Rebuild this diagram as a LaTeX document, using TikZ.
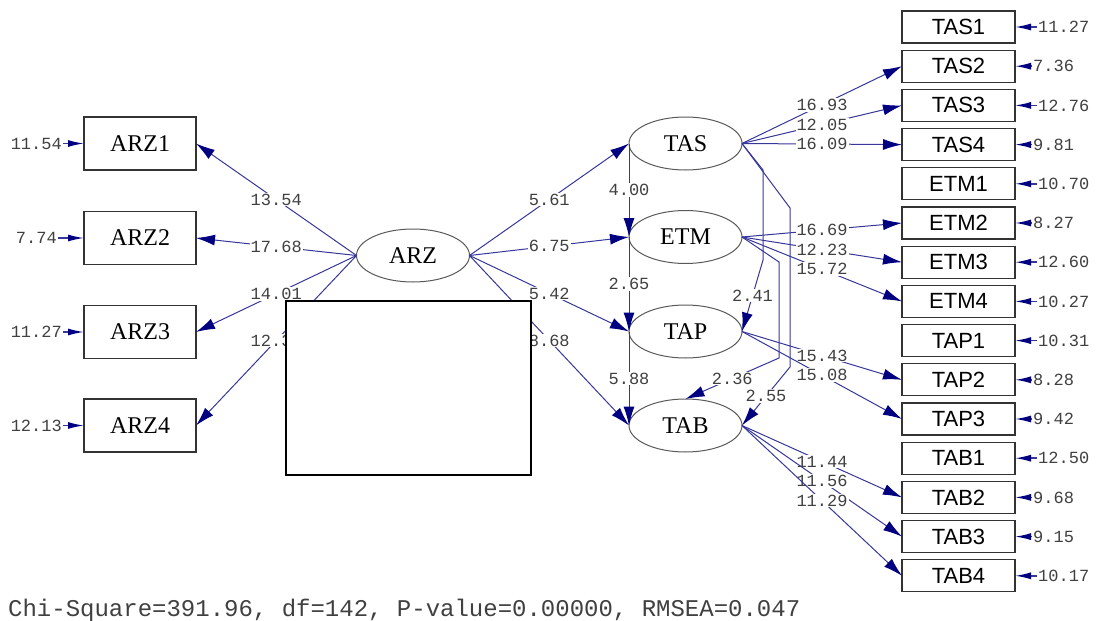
\documentclass[tikz,border=0pt]{standalone}
\usepackage{fontspec}
\setmainfont{Liberation Serif}
\newfontfamily\valfont{Liberation Mono}
\newfontfamily\itemfont{Liberation Sans}
\usetikzlibrary{shapes.geometric,arrows.meta}
\definecolor{linkblue}{RGB}{55,55,155}
\definecolor{tipblue}{RGB}{0,0,128}
\tikzset{
  indicator/.style={rectangle, draw=black!80, line width=1.2pt, minimum width=112pt, minimum height=53pt, inner sep=0pt, outer sep=0pt, font=\fontsize{24}{24}\selectfont},
  itembox/.style={rectangle, draw=black!80, line width=1.2pt, minimum width=113pt, minimum height=32pt, inner sep=0pt, outer sep=0pt, font=\itemfont\fontsize{22}{22}\selectfont},
  latent/.style={ellipse, draw=black!65, line width=1pt, minimum width=113pt, minimum height=53pt, inner sep=0pt, outer sep=0pt, font=\fontsize{24}{24}\selectfont},
  loadarrow/.style={draw=linkblue, line width=1pt, -{Latex[length=19pt,width=11pt,color=tipblue]}},
  resid/.style={draw=linkblue, line width=1.5pt, -{Latex[length=16pt,width=7pt,color=tipblue]}},
  coef/.style={font=\valfont\fontsize{17}{17}\selectfont, text=black!75, fill=white, inner sep=1pt}
}
\begin{document}
\begin{tikzpicture}[x=1pt,y=-1pt]
                    \useasboundingbox (0,0) rectangle (1096,621);
                    % left block
                    \node[indicator] (ARZ1) at (140,143.5) {ARZ1};
                    \node[indicator] (ARZ2) at (140,238) {ARZ2};
                    \node[indicator] (ARZ3) at (140,332) {ARZ3};
                    \node[indicator] (ARZ4) at (140,425.5) {ARZ4};
                    \node[latent] (ARZ) at (413,255.5) {ARZ};
                    \node[coef, anchor=east] (eARZ1) at (63,143.5) {11.54};
                    \node[coef, anchor=east] (eARZ2) at (58,238) {7.74};
                    \node[coef, anchor=east] (eARZ3) at (63,332) {11.27};
                    \node[coef, anchor=east] (eARZ4) at (63,425.5) {12.13};
                    \draw[resid] (eARZ1.east) -- (ARZ1.west);
                    \draw[resid] (eARZ2.east) -- (ARZ2.west);
                    \draw[resid] (eARZ3.east) -- (ARZ3.west);
                    \draw[resid] (eARZ4.east) -- (ARZ4.west);
                    % middle block
                    \node[latent] (TAS) at (685.5,143.5) {TAS};
                    \node[latent] (ETM) at (685.5,237) {ETM};
                    \node[latent] (TAP) at (685.5,331.5) {TAP};
                    \node[latent] (TAB) at (685.5,425.5) {TAB};
                    % right block
                    \node[itembox] (TAS1) at (958.5,27) {TAS1};
                    \node[itembox] (TAS2) at (958.5,66.2) {TAS2};
                    \node[itembox] (TAS3) at (958.5,105.4) {TAS3};
                    \node[itembox] (TAS4) at (958.5,144.6) {TAS4};
                    \node[itembox] (ETM1) at (958.5,183.8) {ETM1};
                    \node[itembox] (ETM2) at (958.5,223) {ETM2};
                    \node[itembox] (ETM3) at (958.5,262.2) {ETM3};
                    \node[itembox] (ETM4) at (958.5,301.4) {ETM4};
                    \node[itembox] (TAP1) at (958.5,340.6) {TAP1};
                    \node[itembox] (TAP2) at (958.5,379.8) {TAP2};
                    \node[itembox] (TAP3) at (958.5,419) {TAP3};
                    \node[itembox] (TAB1) at (958.5,458.2) {TAB1};
                    \node[itembox] (TAB2) at (958.5,497.4) {TAB2};
                    \node[itembox] (TAB3) at (958.5,536.6) {TAB3};
                    \node[itembox] (TAB4) at (958.5,575.8) {TAB4};
                    \node[coef, anchor=west] (eTAS1) at (1037,27) {11.27};
                    \node[coef, anchor=west] (eTAS2) at (1032,66.2) {7.36};
                    \node[coef, anchor=west] (eTAS3) at (1037,105.4) {12.76};
                    \node[coef, anchor=west] (eTAS4) at (1032,144.6) {9.81};
                    \node[coef, anchor=west] (eETM1) at (1037,183.8) {10.70};
                    \node[coef, anchor=west] (eETM2) at (1032,223) {8.27};
                    \node[coef, anchor=west] (eETM3) at (1037,262.2) {12.60};
                    \node[coef, anchor=west] (eETM4) at (1037,301.4) {10.27};
                    \node[coef, anchor=west] (eTAP1) at (1037,340.6) {10.31};
                    \node[coef, anchor=west] (eTAP2) at (1032,379.8) {8.28};
                    \node[coef, anchor=west] (eTAP3) at (1032,419) {9.42};
                    \node[coef, anchor=west] (eTAB1) at (1037,458.2) {12.50};
                    \node[coef, anchor=west] (eTAB2) at (1032,497.4) {9.68};
                    \node[coef, anchor=west] (eTAB3) at (1032,536.6) {9.15};
                    \node[coef, anchor=west] (eTAB4) at (1037,575.8) {10.17};
                    \draw[resid] (eTAS1.west) -- (TAS1.east);
                    \draw[resid] (eTAS2.west) -- (TAS2.east);
                    \draw[resid] (eTAS3.west) -- (TAS3.east);
                    \draw[resid] (eTAS4.west) -- (TAS4.east);
                    \draw[resid] (eETM1.west) -- (ETM1.east);
                    \draw[resid] (eETM2.west) -- (ETM2.east);
                    \draw[resid] (eETM3.west) -- (ETM3.east);
                    \draw[resid] (eETM4.west) -- (ETM4.east);
                    \draw[resid] (eTAP1.west) -- (TAP1.east);
                    \draw[resid] (eTAP2.west) -- (TAP2.east);
                    \draw[resid] (eTAP3.west) -- (TAP3.east);
                    \draw[resid] (eTAB1.west) -- (TAB1.east);
                    \draw[resid] (eTAB2.west) -- (TAB2.east);
                    \draw[resid] (eTAB3.west) -- (TAB3.east);
                    \draw[resid] (eTAB4.west) -- (TAB4.east);
                    % paths
                    \draw[loadarrow] (ARZ.west) -- node[coef] {13.54} (ARZ1.east);
                    \draw[loadarrow] (ARZ.west) -- node[coef] {17.68} (ARZ2.east);
                    \draw[loadarrow] (ARZ.west) -- node[coef] {14.01} (ARZ3.east);
                    \draw[loadarrow] (ARZ.west) -- node[coef] {12.39} (ARZ4.east);
                    \draw[loadarrow] (ARZ.east) -- node[coef] {5.61} (TAS.west);
                    \draw[loadarrow] (ARZ.east) -- node[coef] {6.75} (ETM.west);
                    \draw[loadarrow] (ARZ.east) -- node[coef] {5.42} (TAP.west);
                    \draw[loadarrow] (ARZ.east) -- node[coef] {8.68} (TAB.west);
                    \draw[loadarrow] (TAS.west) -- node[coef] {4.00} (ETM.west);
                    \draw[loadarrow] (ETM.west) -- node[coef] {2.65} (TAP.west);
                    \draw[loadarrow] (TAP.west) -- node[coef] {5.88} (TAB.west);
                    \coordinate (kinkA) at (763,170);
                    \coordinate (kinkB) at (763,260);
                    \coordinate (kinkC) at (790,208);
                    \coordinate (kinkD) at (790,367);
                    \coordinate (kinkE) at (779,262);
                    \coordinate (kinkF) at (779,358);
                    \draw[loadarrow] (TAS.east) -- (kinkA) -- (kinkB) -- node[coef] {2.41} (TAP.east);
                    \draw[loadarrow] (TAS.east) -- (kinkC) -- (kinkD) -- node[coef] {2.55} (TAB.east);
                    \draw[loadarrow] (ETM.east) -- (kinkE) -- (kinkF) -- node[coef] {2.36} (TAB.north);
                    \draw[loadarrow] (TAS.east) -- node[coef] {16.93} (TAS2.west);
                    \draw[loadarrow] (TAS.east) -- node[coef] {12.05} (TAS3.west);
                    \draw[loadarrow] (TAS.east) -- node[coef] {16.09} (TAS4.west);
                    \draw[loadarrow] (ETM.east) -- node[coef] {16.69} (ETM2.west);
                    \draw[loadarrow] (ETM.east) -- node[coef] {12.23} (ETM3.west);
                    \draw[loadarrow] (ETM.east) -- node[coef] {15.72} (ETM4.west);
                    \draw[loadarrow] (TAP.east) -- node[coef] {15.43} (TAP2.west);
                    \draw[loadarrow] (TAP.east) -- node[coef] {15.08} (TAP3.west);
                    \draw[loadarrow] (TAB.east) -- node[coef] {11.44} (TAB2.west);
                    \draw[loadarrow] (TAB.east) -- node[coef] {11.56} (TAB3.west);
                    \draw[loadarrow] (TAB.east) -- node[coef] {11.29} (TAB4.west);
                    % blank panel on top
                    \draw[draw=black, line width=1.2pt, fill=white] (286,301) rectangle (531,475);
                    \node[anchor=base west, inner sep=0pt, text=black!75, font=\valfont\fontsize{24}{24}\selectfont] (fitline) at (8,616) {Chi-Square=391.96, df=142, P-value=0.00000, RMSEA=0.047};
                \end{tikzpicture}
\end{document}
